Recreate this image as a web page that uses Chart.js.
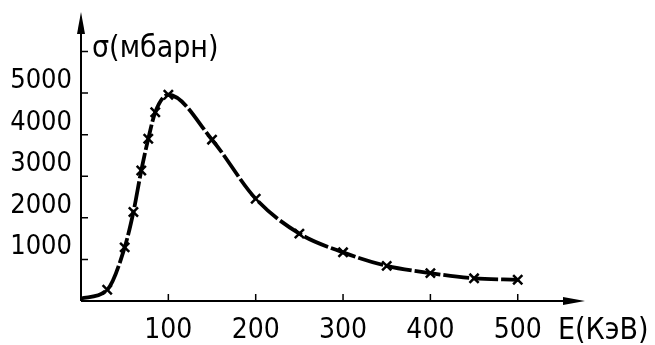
<!DOCTYPE html>
<html>
<head>
<meta charset="utf-8">
<script src="https://cdn.jsdelivr.net/npm/chart.js@4"></script>
<style>
  html, body { margin: 0; padding: 0; background: #fff; }
  #wrap { width: 655px; height: 345px; position: relative; }
</style>
</head>
<body>
<div id="wrap"><canvas id="myChart"></canvas></div>
<script>
// energy in KeV, cross section in mbarn
var energy = [0, 30, 50, 60, 69, 77, 85, 100, 150, 200, 250, 300, 350, 400, 450, 500];
var sigma = [60, 270, 1290, 2140, 3140, 3900, 4540, 4960, 3880, 2460, 1620, 1170, 845, 670, 545, 510];
var xTicks = [100, 200, 300, 400, 500];
var yTicks = [1000, 2000, 3000, 4000, 5000];
var yTitle = 'σ(мбарн)';
var xTitle = 'E(КэВ)';

var fontFam = "'Liberation Sans Narrow', 'DejaVu Sans Condensed', sans-serif";

var points = energy.map(function (e, i) { return { x: e, y: sigma[i] }; });
var radii = energy.map(function (e, i) { return i == 0 ? 0 : 6.5; });

// axes with arrows, inner tick marks and the two axis titles
var axesPlugin = {
    id: 'axesPlugin',
    afterDraw: function (chart) {
        var ctx = chart.ctx;
        var xs = chart.scales.x;
        var ys = chart.scales.y;
        var area = chart.chartArea;
        var x0 = xs.getPixelForValue(0);
        var y0 = ys.getPixelForValue(0);
        ctx.save();
        ctx.strokeStyle = '#000';
        ctx.fillStyle = '#000';
        ctx.lineWidth = 2;
        ctx.beginPath();
        ctx.moveTo(x0, y0);
        ctx.lineTo(x0, area.top + 10);
        ctx.moveTo(x0, y0);
        ctx.lineTo(area.right - 10, y0);
        ctx.stroke();
        // arrow heads
        ctx.beginPath();
        ctx.moveTo(x0, area.top);
        ctx.lineTo(x0 - 4, area.top + 22);
        ctx.lineTo(x0 + 4, area.top + 22);
        ctx.closePath();
        ctx.fill();
        ctx.beginPath();
        ctx.moveTo(area.right, y0);
        ctx.lineTo(area.right - 22, y0 - 4);
        ctx.lineTo(area.right - 22, y0 + 4);
        ctx.closePath();
        ctx.fill();
        // tick marks
        ctx.lineWidth = 1.5;
        ctx.beginPath();
        yTicks.concat([6000]).forEach(function (v) {
            var py = ys.getPixelForValue(v);
            ctx.moveTo(x0, py);
            ctx.lineTo(x0 + 7, py);
        });
        xTicks.forEach(function (v) {
            var px = xs.getPixelForValue(v);
            ctx.moveTo(px, y0);
            ctx.lineTo(px, y0 - 7);
        });
        ctx.stroke();
        // titles
        ctx.font = '30px ' + fontFam;
        ctx.textBaseline = 'alphabetic';
        ctx.textAlign = 'left';
        ctx.fillText(yTitle, x0 + 11, 57);
        ctx.fillText(xTitle, area.right - 27, 339);
        ctx.restore();
    }
};

function plain(v) { return String(v); }

const ctx = document.getElementById('myChart').getContext('2d');
const myChart = new Chart(ctx, {
    type: 'line',
    data: {
        datasets: [{
            data: points,
            borderColor: '#000',
            backgroundColor: '#000',
            borderWidth: 3.8,
            borderDash: [26, 3],
            cubicInterpolationMode: 'monotone',
            pointStyle: 'crossRot',
            pointRadius: radii,
            pointBorderWidth: 2.5,
            pointBorderColor: '#000',
            clip: false
        }]
    },
    options: {
        responsive: true,
        maintainAspectRatio: false,
        animation: false,
        layout: { padding: { top: 12, right: 70, left: 0, bottom: 0 } },
        plugins: {
            legend: { display: false },
            tooltip: { enabled: false }
        },
        scales: {
            x: {
                type: 'linear',
                min: 0,
                max: 577,
                afterBuildTicks: function (axis) {
                    axis.ticks = xTicks.map(function (v) { return { value: v }; });
                },
                afterFit: function (axis) {
                    axis.height = 44;
                    axis.paddingLeft = 0;
                    axis.paddingRight = 0;
                },
                grid: { display: false, drawTicks: false },
                border: { display: false },
                ticks: {
                    color: '#000',
                    padding: 13,
                    maxRotation: 0,
                    callback: plain,
                    font: { family: fontFam, size: 28 }
                }
            },
            y: {
                type: 'linear',
                min: 0,
                max: 6950,
                afterBuildTicks: function (axis) {
                    axis.ticks = yTicks.map(function (v) { return { value: v }; });
                },
                afterFit: function (axis) {
                    axis.width = 81;
                    axis.paddingTop = 0;
                    axis.paddingBottom = 0;
                },
                grid: { display: false, drawTicks: false },
                border: { display: false },
                ticks: {
                    color: '#000',
                    padding: 9,
                    labelOffset: -12,
                    callback: plain,
                    font: { family: fontFam, size: 27 }
                }
            }
        }
    },
    plugins: [axesPlugin]
});
</script>
</body>
</html>
